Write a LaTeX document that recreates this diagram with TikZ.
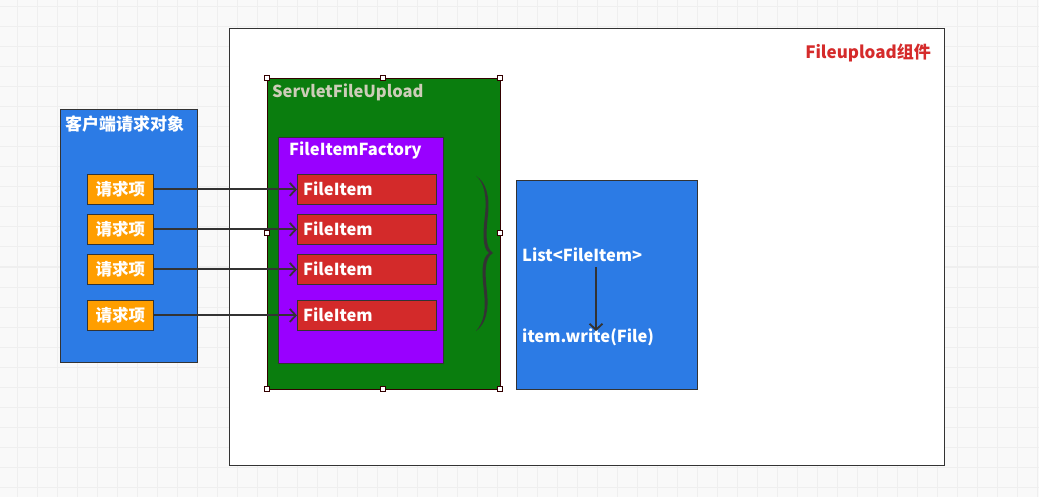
\documentclass[tikz,border=0pt]{standalone}
\usepackage{fontspec}
\setmainfont{Noto Sans CJK SC}
\usetikzlibrary{arrows.meta}
\definecolor{gridbg}{HTML}{F9F9F9}
\definecolor{gridln}{HTML}{EFEFEF}
\definecolor{lblue}{HTML}{2C7BE5}
\definecolor{lorange}{HTML}{FF9E00}
\definecolor{lgreen}{HTML}{0A7D0E}
\definecolor{lpurple}{HTML}{9900FF}
\definecolor{lred}{HTML}{D32A2A}
\definecolor{ltitle}{HTML}{D52B2B}
\definecolor{lkhaki}{HTML}{CDCDB8}
\definecolor{ldark}{HTML}{333333}
\tikzset{
  x=1pt,y=-1pt,
  box/.style={draw=ldark,line width=0.8pt,inner sep=0pt},
  lbl/.style={font=\bfseries\fontsize{16.5}{18}\selectfont,text=white,anchor=west,inner sep=0pt},
  reqbox/.style={box,fill=lorange,minimum width=66,minimum height=30,font=\bfseries\fontsize{16.5}{18}\selectfont,text=white},
  itembox/.style={box,fill=lred,minimum width=139,minimum height=30},
  conn/.style={draw=ldark,line width=2pt,-{Straight Barb[length=6pt,width=13pt,line width=1.8pt]}},
  handle/.style={draw=black!80!red,fill=white,line width=0.7pt,minimum size=5,inner sep=0pt}
}
\begin{document}
\begin{tikzpicture}
\useasboundingbox (0,0) rectangle (1039,497);
\fill[gridbg] (0,0) rectangle (1039,497);
\foreach \x in {17,37,...,1037} \draw[gridln,line width=1pt] (\x,0) -- (\x,497);
\foreach \y in {7,27,...,497} \draw[gridln,line width=1pt] (0,\y) -- (1039,\y);
% white component box
\node[box,fill=white,anchor=north west,minimum width=715,minimum height=437] (comp) at (229,28) {};
\node[font=\bfseries\fontsize{17}{19}\selectfont,text=ltitle,anchor=east,inner sep=0pt] (comptitle) at (931,53) {Fileupload组件};
% client box
\node[box,fill=lblue,anchor=north west,minimum width=137,minimum height=253] (client) at (60,109) {};
\node[lbl,font=\bfseries\fontsize{17}{19}\selectfont] (clienttitle) at (65,124) {客户端请求对象};
% green box
\node[box,draw=black!80!red,fill=lgreen,anchor=north west,minimum width=233,minimum height=311] (servlet) at (267,78) {};
\node[lbl,text=lkhaki] (servlettitle) at (272,92) {ServletFileUpload};
% purple box
\node[box,fill=lpurple,anchor=north west,minimum width=165,minimum height=226] (factory) at (278,137) {};
\node[lbl] (factorytitle) at (289,150) {FileItemFactory};
% request items
\node[reqbox,anchor=north west] (r1) at (87,174) {请求项};
\node[reqbox,anchor=north west] (r2) at (87,214) {请求项};
\node[reqbox,anchor=north west] (r3) at (87,254) {请求项};
\node[reqbox,anchor=north west] (r4) at (87,300) {请求项};
% file items
\node[itembox,anchor=north west] (f1) at (297,174) {};
\node[itembox,anchor=north west] (f2) at (297,214) {};
\node[itembox,anchor=north west] (f3) at (297,254) {};
\node[itembox,anchor=north west] (f4) at (297,300) {};
\foreach \i in {1,2,3,4} \node[lbl] (ft\i) at ([xshift=6,yshift=1]f\i.west) {FileItem};
% connectors
\foreach \i in {1,2,3,4} \draw[conn] (r\i.east) -- (f\i.west);
% brace
\fill[ldark] (476,176) .. controls (486,182) and (490,196) .. (488,215)
  .. controls (486,232) and (485,248) .. (493,253)
  .. controls (484,258) and (485,274) .. (487,292)
  .. controls (489,310) and (486,324) .. (476,331)
  .. controls (484,322) and (486,310) .. (484,292)
  .. controls (482,274) and (481,258) .. (489,253)
  .. controls (482,248) and (483,232) .. (485,215)
  .. controls (487,196) and (484,182) .. (476,176) -- cycle;
% handles
\foreach \p [count=\k] in {{267,78},{383,78},{500,78},{267,233},{500,233},{267,389},{383,389},{500,389}}
  \node[handle] (h\k) at (\p) {};
% list box
\node[box,fill=lblue,anchor=north west,minimum width=181,minimum height=209] (listbox) at (516,180) {};
\node[lbl] (listtxt) at (522,255) {List<FileItem>};
\node[lbl] (writetxt) at (522,337) {item.write(File)};
\coordinate (atop) at (596,267);
\coordinate (abot) at (596,331);
\draw[conn] (atop) -- (abot);
\end{tikzpicture}
\end{document}
